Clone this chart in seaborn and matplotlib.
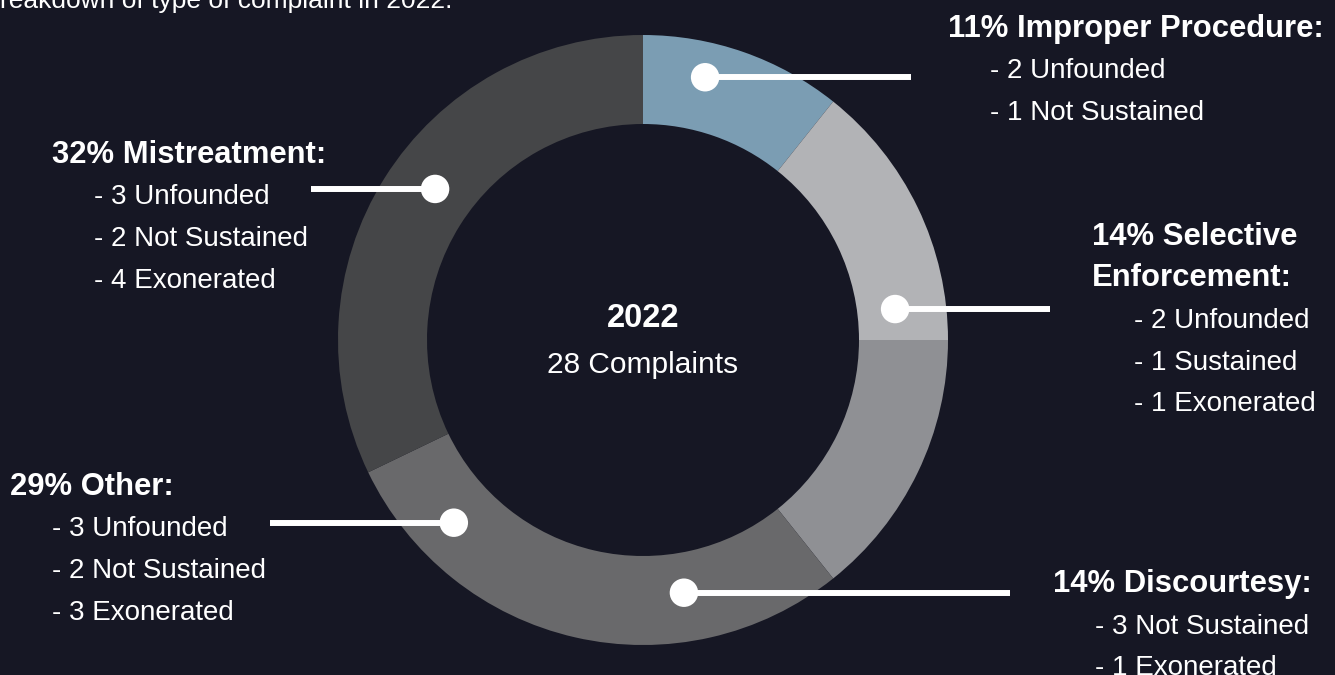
import numpy as np
import pandas as pd
import seaborn as sns
import matplotlib.pyplot as plt

# Complaint counts in 2022, clockwise from the top
categories = ['Improper Procedure', 'Selective Enforcement', 'Discourtesy', 'Other', 'Mistreatment']
counts = [3, 4, 4, 8, 9]
colors = ['#7b9db3', '#b2b3b6', '#8f9094', '#69696b', '#454648']

# Outcome breakdown for each category
outcomes = [
    ['2 Unfounded', '1 Not Sustained'],
    ['2 Unfounded', '1 Sustained', '1 Exonerated'],
    ['3 Not Sustained', '1 Exonerated'],
    ['3 Unfounded', '2 Not Sustained', '3 Exonerated'],
    ['3 Unfounded', '2 Not Sustained', '4 Exonerated'],
]
year = '2022'
title = 'reakdown of type of complaint in 2022.'

bg = '#161724'
W, H = 1335, 675

sns.set_theme(style='dark', rc={'axes.facecolor': bg, 'figure.facecolor': bg,
                                'savefig.facecolor': bg})
plt.rcParams['font.family'] = ['Liberation Sans', 'DejaVu Sans']

df = pd.DataFrame({'category': categories, 'count': counts, 'color': colors})
total = df['count'].sum()
df['pct'] = (100 * df['count'] / total).round().astype(int)

fig = plt.figure(figsize=(W / 100, H / 100), dpi=100)
ax = fig.add_axes([0, 0, 1, 1])

# donut, centre and radii in pixel units
cx, cy = 643, H - 340
r_out, r_in = 305, 216
ax.pie(df['count'], colors=df['color'], startangle=90, counterclock=False,
       center=(cx, cy), radius=r_out,
       wedgeprops={'width': r_out - r_in, 'linewidth': 0})
ax.set_xlim(0, W)
ax.set_ylim(0, H)
ax.set_aspect('equal')
ax.axis('off')

fs_head, fs_sub = 22.3, 20

# centre text
ax.text(cx, H - 327, year, color='white', fontsize=23.5, fontweight='bold', ha='center', va='baseline')
ax.text(cx, H - 373, f'{total} Complaints', color='white', fontsize=21.5, ha='center', va='baseline')

# title (clipped at the top of the image)
ax.text(0, H - 8, title, color='white', fontsize=19, ha='left', va='baseline')

# callouts: angle/radius of the dot, end x of the leader, heading position
callout_angle = [76.7, 7.0, -80.8, 224.0, 144.0]
callout_r = [270, 254, 256, 263, 257]
line_end_x = [911, 1050, 1010, 270, 311]
head_xy = [(948, 37), (1092, 245), (1053, 592), (10, 495), (52, 163)]
headings = [f'{p}% {c}:' for p, c in zip(df['pct'], df['category'])]
headings[1] = f"{df['pct'][1]}% Selective\nEnforcement:"

step = 41.5
dots_x, dots_y = [], []
for i in range(len(df)):
    a = np.deg2rad(callout_angle[i])
    dx = cx + callout_r[i] * np.cos(a)
    dy = cy + callout_r[i] * np.sin(a)
    dots_x.append(dx)
    dots_y.append(dy)
    ax.plot([dx, line_end_x[i]], [dy, dy], color='white', lw=4.3, solid_capstyle='butt', zorder=3)

    hx, hy = head_xy[i]
    lines = headings[i].split('\n')
    for j, ln in enumerate(lines):
        ax.text(hx, H - hy - j * step, ln, color='white', fontsize=fs_head, fontweight='bold',
                ha='left', va='baseline')
    for k, o in enumerate(outcomes[i]):
        ax.text(hx + 42, H - hy - (len(lines) + k) * step, f'- {o}', color='white',
                fontsize=fs_sub, ha='left', va='baseline')

sns.scatterplot(x=dots_x, y=dots_y, ax=ax, color='white', s=420, edgecolor='none', zorder=4)

fig.savefig('out.png', dpi=100, facecolor=bg)
